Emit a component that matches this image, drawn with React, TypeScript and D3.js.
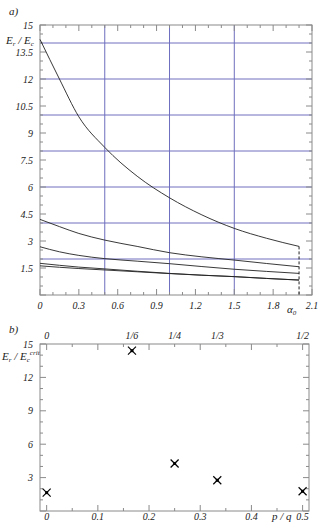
import React from 'react'
import * as d3 from 'd3'

// panel a) curves E_r/E_c against alpha_0
const alphaValues = [0, 0.15, 0.3, 0.5, 0.75, 1.0, 1.25, 1.5, 1.75, 2.0]
const curveA1 = [14.2, 12.0, 9.9, 8.2, 6.6, 5.4, 4.45, 3.7, 3.15, 2.7]
const curveA2 = [4.2, 3.8, 3.42, 3.05, 2.7, 2.35, 2.12, 1.94, 1.75, 1.57]
const curveA3 = [2.68, 2.4, 2.2, 2.02, 1.88, 1.74, 1.58, 1.43, 1.31, 1.2]
const curveA4 = [1.76, 1.65, 1.55, 1.45, 1.32, 1.2, 1.1, 1.02, 0.92, 0.83]
const curveA5 = [1.62, 1.54, 1.47, 1.39, 1.29, 1.19, 1.1, 1.02, 0.92, 0.83]
const seriesA = [curveA1, curveA2, curveA3, curveA4, curveA5]
const gridYA = [2, 4, 6, 8, 10, 12, 14]
const gridXA = [0.5, 1.0, 1.5]
const xLabelsA = ['0', '0.3', '0.6', '0.9', '1.2', '1.5', '1.8', '2.1']
const yLabelsA = ['1.5', '3', '4.5', '6', '7.5', '9', '10.5', '12', '13.5', '15']

// panel b) E_r/E_c^crit against p/q
const pqValues = [0, 1 / 6, 1 / 4, 1 / 3, 1 / 2]
const pqRatio = [1.65, 14.4, 4.27, 2.76, 1.77]
const pqTopLabels = ['0', '1/6', '1/4', '1/3', '1/2']
const xLabelsB = ['0', '0.1', '0.2', '0.3', '0.4', '0.5']
const yLabelsB = ['3', '6', '9', '12', '15']

const GRID = '#6e6ebf'
const AXIS = '#8a8a8a'
const INK = '#222'
const FONT = '"Liberation Serif", "DejaVu Serif", serif'

const App: React.FC = () => {
  // scales for a)
  const xA = d3.scaleLinear().domain([0, 2.1]).range([40, 312])
  const yA = d3.scaleLinear().domain([0, 15]).range([295, 25])
  // scales for b)
  const xB = d3.scaleLinear().domain([-0.013, 0.5125]).range([40, 309])
  const yB = d3.scaleLinear().domain([0, 15]).range([511, 344])

  const line = d3
    .line<number>()
    .x((_, i) => xA(alphaValues[i]))
    .y((d) => yA(d))
    .curve(d3.curveMonotoneX)

  const ticksXA = d3.range(0, 22).map((i) => ({ v: i / 10, major: i % 3 === 0 }))
  const ticksYA = d3.range(0, 31).map((i) => ({ v: i / 2, major: i % 3 === 0 }))
  const ticksXB = d3.range(0, 11).map((i) => ({ v: i * 0.05, major: i % 2 === 0 }))
  const ticksYB = d3.range(0, 16).map((i) => ({ v: i, major: i % 3 === 0 }))

  const lastA = alphaValues[alphaValues.length - 1]
  const txt = { fontFamily: FONT, fontStyle: 'italic' as const, fontSize: 10, fill: INK }

  return (
    <svg
      width={318}
      height={527}
      style={{ position: 'absolute', left: 0, top: 0, background: '#fff' }}
    >
      {/* ---------- panel a ---------- */}
      <text x={9} y={15} {...txt} fontSize={11}>a)</text>
      <g>
        {gridYA.map((v) => (
          <line key={'gy' + v} x1={xA(0)} x2={xA(2.1)} y1={yA(v)} y2={yA(v)} stroke={GRID} strokeWidth={1} />
        ))}
        {gridXA.map((v) => (
          <line key={'gx' + v} x1={xA(v)} x2={xA(v)} y1={yA(0)} y2={yA(15)} stroke={GRID} strokeWidth={1} />
        ))}
        <rect x={xA(0)} y={yA(15)} width={xA(2.1) - xA(0)} height={yA(0) - yA(15)} fill="none" stroke={AXIS} strokeWidth={1} />
        {ticksXA.map((t) => (
          <g key={'tx' + t.v}>
            <line x1={xA(t.v)} x2={xA(t.v)} y1={yA(0)} y2={yA(0) - (t.major ? 6 : 3)} stroke={AXIS} />
            <line x1={xA(t.v)} x2={xA(t.v)} y1={yA(15)} y2={yA(15) + (t.major ? 6 : 3)} stroke={AXIS} />
          </g>
        ))}
        {ticksYA.map((t) => (
          <g key={'ty' + t.v}>
            <line x1={xA(0)} x2={xA(0) + (t.major ? 6 : 3)} y1={yA(t.v)} y2={yA(t.v)} stroke={AXIS} />
            <line x1={xA(2.1)} x2={xA(2.1) - (t.major ? 6 : 3)} y1={yA(t.v)} y2={yA(t.v)} stroke={AXIS} />
          </g>
        ))}
        {seriesA.map((s, i) => (
          <path key={'c' + i} d={line(s) || ''} fill="none" stroke={INK} strokeWidth={0.9} />
        ))}
        <line
          x1={xA(lastA)}
          x2={xA(lastA)}
          y1={yA(curveA1[curveA1.length - 1])}
          y2={yA(0)}
          stroke={INK}
          strokeDasharray="3,2"
        />
        {xLabelsA.map((l) => (
          <text key={'lx' + l} x={xA(+l)} y={309} textAnchor="middle" {...txt}>{l}</text>
        ))}
        {yLabelsA.map((l) => (
          <text key={'ly' + l} x={33} y={yA(+l) + 3.5} textAnchor="end" {...txt}>{l}</text>
        ))}
        <text x={6} y={44} {...txt} fontSize={11}>
          E<tspan fontSize={7} dy={2}>r</tspan>
          <tspan dy={-2}> / E</tspan>
          <tspan fontSize={7} dy={2}>c</tspan>
        </text>
        <text x={287} y={313} {...txt} fontSize={11}>
          α<tspan fontSize={7} dy={2}>0</tspan>
        </text>
      </g>

      {/* ---------- panel b ---------- */}
      <text x={9} y={333} {...txt} fontSize={11}>b)</text>
      <g>
        <rect x={xB(-0.013)} y={yB(15)} width={xB(0.5125) - xB(-0.013)} height={yB(0) - yB(15)} fill="none" stroke={AXIS} strokeWidth={1} />
        {ticksXB.map((t) => (
          <g key={'bx' + t.v}>
            <line x1={xB(t.v)} x2={xB(t.v)} y1={yB(0)} y2={yB(0) - (t.major ? 6 : 3)} stroke={AXIS} />
            <line x1={xB(t.v)} x2={xB(t.v)} y1={yB(15)} y2={yB(15) + (t.major ? 6 : 3)} stroke={AXIS} />
          </g>
        ))}
        {ticksYB.map((t) => (
          <g key={'by' + t.v}>
            <line x1={xB(-0.013)} x2={xB(-0.013) + (t.major ? 6 : 3)} y1={yB(t.v)} y2={yB(t.v)} stroke={AXIS} />
            <line x1={xB(0.5125)} x2={xB(0.5125) - (t.major ? 6 : 3)} y1={yB(t.v)} y2={yB(t.v)} stroke={AXIS} />
          </g>
        ))}
        {pqValues.map((p, i) => {
          const cx = xB(p)
          const cy = yB(pqRatio[i])
          return (
            <g key={'pt' + i} stroke="#000" strokeWidth={1.2}>
              <line x1={cx - 4} y1={cy - 4} x2={cx + 4} y2={cy + 4} />
              <line x1={cx - 4} y1={cy + 4} x2={cx + 4} y2={cy - 4} />
              <rect x={cx - 1.5} y={cy - 1.5} width={3} height={3} fill="#000" stroke="none" />
            </g>
          )
        })}
        {pqTopLabels.map((l, i) => (
          <text key={'tl' + l} x={xB(pqValues[i])} y={339} textAnchor="middle" {...txt}>{l}</text>
        ))}
        {xLabelsB.map((l) => (
          <text key={'bl' + l} x={xB(+l)} y={520} textAnchor="middle" {...txt}>{l}</text>
        ))}
        {yLabelsB.map((l) => (
          <text key={'yl' + l} x={33} y={yB(+l) + 3.5} textAnchor="end" {...txt}>{l}</text>
        ))}
        <text x={2} y={360} {...txt} fontSize={11}>
          E<tspan fontSize={7} dy={2}>r</tspan>
          <tspan dy={-2}> / E</tspan>
          <tspan fontSize={7} dy={2}>c</tspan>
          <tspan fontSize={7} dy={-7}>crit</tspan>
        </text>
        <text x={272} y={520} {...txt} fontSize={11}>p / q</text>
      </g>
    </svg>
  )
}

export default App
